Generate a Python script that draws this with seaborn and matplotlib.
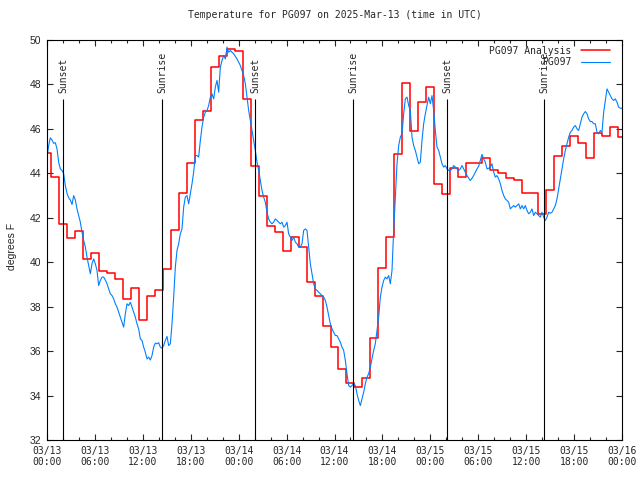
import numpy as np
import pandas as pd
import matplotlib
matplotlib.use("Agg")
import matplotlib.pyplot as plt
import matplotlib.dates as mdates
import seaborn as sns

# --- datos ---
inicio = pd.Timestamp("2025-03-13 00:00")

# Analysis (valores horarios, 00Z 03/13 .. 00Z 03/16)
analysis_temp = [
    44.9, 43.85, 41.7, 41.1, 41.4, 40.15, 40.4, 39.6, 39.5, 39.25, 38.35, 38.85,
    37.4, 38.5, 38.75, 39.7, 41.45, 43.1, 44.45, 46.4, 46.8, 48.8, 49.3, 49.6,
    49.5, 47.35, 44.35, 43.0, 41.65, 41.35, 40.5, 41.15, 40.7, 39.1, 38.5, 37.15,
    36.2, 35.2, 34.55, 34.4, 34.8, 36.6, 39.75, 41.15, 44.85, 48.05, 45.9, 47.2,
    47.9, 43.5, 43.05, 44.25, 43.85, 44.45, 44.45, 44.7, 44.15, 44.0, 43.8, 43.7,
    43.1, 43.1, 42.15, 43.25, 44.8, 45.25, 45.7, 45.35, 44.7, 45.8, 45.7, 46.1,
    45.65,
]

# Observaciones de la estacion (cada ~12.5 min)
obs_temp = [
    44.73, 45.25, 45.6, 45.5, 45.35, 45.38, 45.1, 44.5, 44.2, 44.13, 43.98, 43.45,
    43.1, 42.9, 42.8, 42.6, 43.0, 42.8, 42.4, 42.1, 41.8, 41.35, 40.98, 40.68,
    40.23, 39.85, 39.48, 39.93, 40.15, 39.93, 39.63, 38.95, 39.18, 39.33, 39.33, 39.2,
    39.03, 38.8, 38.58, 38.5, 38.35, 38.13, 37.98, 37.75, 37.53, 37.3, 37.08, 37.68,
    38.13, 38.05, 38.2, 37.98, 37.75, 37.53, 37.23, 37.0, 36.55, 36.48, 36.18, 35.95,
    35.65, 35.73, 35.6, 35.8, 36.18, 36.36, 36.33, 36.38, 36.18, 36.13, 36.25, 36.48,
    36.66, 36.25, 36.33, 37.23, 38.43, 39.78, 40.53, 40.83, 41.28, 41.5, 42.48, 42.93,
    43.0, 42.63, 43.08, 43.53, 44.05, 44.8, 44.8, 44.73, 45.48, 46.08, 46.53, 46.75,
    46.83, 47.05, 47.43, 47.58, 47.35, 47.88, 48.18, 47.65, 48.78, 49.08, 49.3, 49.15,
    49.68, 49.45, 49.53, 49.45, 49.38, 49.26, 49.15, 49.0, 48.85, 48.63, 48.4, 48.03,
    47.43, 46.83, 46.38, 45.93, 45.48, 45.03, 44.5, 44.13, 43.68, 43.23, 42.93, 42.7,
    42.25, 41.95, 41.8, 41.73, 41.8, 41.95, 41.88, 41.8, 41.73, 41.8, 41.58, 41.65,
    41.8, 41.28, 41.13, 40.98, 41.13, 40.9, 40.83, 40.68, 40.68, 40.83, 41.43, 41.5,
    41.43, 40.68, 39.93, 39.48, 39.03, 38.8, 38.73, 38.65, 38.58, 38.5, 38.43, 38.28,
    37.98, 37.6, 37.23, 37.0, 36.85, 36.7, 36.7, 36.55, 36.4, 36.18, 36.03, 35.58,
    34.98, 34.45, 34.38, 34.45, 34.53, 34.45, 34.08, 33.78, 33.55, 33.85, 34.15, 34.53,
    34.83, 34.98, 35.28, 35.65, 36.03, 36.33, 36.93, 37.53, 38.43, 38.88, 39.18, 39.33,
    39.25, 39.4, 39.03, 39.63, 41.43, 42.93, 44.43, 45.25, 45.63, 45.78, 46.68, 47.35,
    47.43, 47.05, 46.83, 45.63, 45.25, 45.03, 44.73, 44.43, 44.5, 45.48, 46.23, 46.68,
    47.05, 47.43, 47.13, 47.5, 46.83, 45.93, 45.18, 45.03, 44.73, 44.43, 44.28, 44.35,
    44.2, 44.13, 44.13, 44.2, 44.35, 44.28, 44.2, 44.13, 44.2, 44.35, 44.2, 44.05,
    43.9, 43.78, 43.68, 43.78, 43.9, 44.05, 44.2, 44.32, 44.58, 44.85, 44.65, 44.5,
    44.2, 44.23, 44.28, 44.43, 44.05, 43.83, 43.9, 43.75, 43.53, 43.23, 43.0, 42.85,
    42.78, 42.7, 42.4, 42.48, 42.55, 42.48, 42.55, 42.63, 42.4, 42.55, 42.4, 42.55,
    42.33, 42.18, 42.25, 42.4, 42.1, 42.25, 42.18, 42.1, 42.03, 42.25, 42.03, 41.88,
    42.03, 42.25, 42.2, 42.25, 42.4, 42.55, 42.85, 43.3, 43.75, 44.2, 44.65, 45.03,
    45.33, 45.63, 45.85, 45.93, 46.08, 46.15, 46.0, 45.93, 46.23, 46.53, 46.68, 46.78,
    46.68, 46.45, 46.33, 46.33, 46.23, 46.23, 45.85, 45.78, 45.93, 45.85, 46.75, 47.28,
    47.8, 47.65, 47.5, 47.35, 47.28, 47.35, 47.2, 46.98, 46.93, 46.93,
]

# Horas (desde 03/13 00Z) de la puesta y salida del sol
sunset_horas = [2.04, 26.08, 50.12]
sunrise_horas = [14.44, 38.36, 62.28]


def run_plot():
    df_an = pd.DataFrame({
        "time": pd.date_range(inicio, periods=len(analysis_temp), freq="h"),
        "temp": analysis_temp,
    })
    horas_obs = np.linspace(0, 72, len(obs_temp))
    df_obs = pd.DataFrame({
        "time": inicio + pd.to_timedelta(horas_obs, unit="h"),
        "temp": obs_temp,
    })

    sns.set_theme(style="ticks", rc={
        "xtick.direction": "in", "ytick.direction": "in",
        "xtick.top": True, "ytick.right": True,
        "axes.linewidth": 0.8, "axes.edgecolor": "black",
    })
    mono = ["DejaVu Sans Mono"]
    sans = ["Liberation Sans", "DejaVu Sans"]

    fig = plt.figure(figsize=(6.4, 4.8), dpi=100)
    ax = fig.add_axes([47 / 640, 40 / 480, 575 / 640, 400 / 480])

    sns.lineplot(data=df_an, x="time", y="temp", ax=ax, color="#ff0000",
                 linewidth=1.1, estimator=None, sort=False,
                 drawstyle="steps-mid", label="PG097 Analysis")
    sns.lineplot(data=df_obs, x="time", y="temp", ax=ax, color="#0080ff",
                 linewidth=0.8, estimator=None, sort=False, label="PG097")

    # lineas de salida / puesta del sol
    for h in sunset_horas + sunrise_horas:
        t = inicio + pd.Timedelta(hours=h)
        texto = "Sunset" if h in sunset_horas else "Sunrise"
        ax.vlines(t, 32, 47.33, color="black", linewidth=0.8)
        ax.text(t, 47.62, texto, rotation=90, ha="center", va="bottom",
                fontsize=7, family=mono)

    ax.set_xlim(inicio, inicio + pd.Timedelta(hours=72))
    ax.set_ylim(32, 50)
    ax.set_yticks(np.arange(32, 51, 2))
    ax.xaxis.set_major_locator(mdates.HourLocator(byhour=[0, 6, 12, 18]))
    ax.xaxis.set_minor_locator(mdates.HourLocator(byhour=range(0, 24, 2)))
    ax.xaxis.set_major_formatter(mdates.DateFormatter("%m/%d\n%H:%M"))
    ax.tick_params(axis="both", which="major", length=4.5, width=0.8, pad=4)
    ax.tick_params(axis="x", which="minor", length=2.5, width=0.8, top=True)
    for lab in ax.get_xticklabels():
        lab.set_family(mono)
        lab.set_fontsize(7)
    for lab in ax.get_yticklabels():
        lab.set_family(sans)
        lab.set_fontsize(7.5)

    ax.set_xlabel("")
    ax.set_ylabel("degrees F", family=sans, fontsize=7.5)
    ax.yaxis.set_label_coords(-0.052, 0.485)
    ax.set_title("Temperature for PG097 on 2025-Mar-13 (time in UTC)",
                 family=mono, fontsize=7, pad=16)

    ax.legend(loc="upper right", bbox_to_anchor=(0.979, 0.986), frameon=False,
              markerfirst=False, borderpad=0, borderaxespad=0,
              handlelength=3.0, handletextpad=1.0, labelspacing=0.15,
              prop={"family": mono, "size": 7})

    fig.savefig("out.png", dpi=100)


if __name__ == "__main__":
    run_plot()
